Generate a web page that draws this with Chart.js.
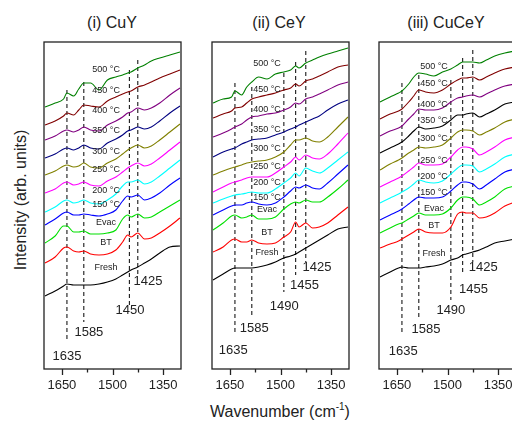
<!DOCTYPE html>
<html>
<head>
<meta charset="utf-8">
<script src="https://cdn.jsdelivr.net/npm/chart.js@4.4.0/dist/chart.umd.min.js"></script>
<style>
  body { margin: 0; width: 512px; height: 421px; overflow: hidden; background: #fff; position: relative;
         font-family: Arial, "Liberation Sans", sans-serif; color: #222; }
  canvas { position: absolute; top: 32px; }
  .lbl { position: absolute; white-space: nowrap; transform: translate(-50%, -50%); }
  .ttl { font-size: 16px; top: 23px; }
  sup { font-size: 10px; }
</style>
</head>
<body>
<div class="lbl ttl" style="left:112px">(i) CuY</div>
<div class="lbl ttl" style="left:279px">(ii) CeY</div>
<div class="lbl ttl" style="left:446px">(iii) CuCeY</div>
<div class="lbl" style="left:21px;top:200px;font-size:16px;transform:translate(-50%,-50%) rotate(-90deg)">Intensity (arb. units)</div>
<div class="lbl" style="left:280px;top:411px;font-size:16px">Wavenumber (cm<sup>-1</sup>)</div>

<canvas id="cuY" width="157" height="365" style="left:34px"></canvas>
<canvas id="ceY" width="157" height="365" style="left:202px"></canvas>
<canvas id="cuCeY" width="157" height="365" style="left:369px"></canvas>

<script>
// --- data (intensity in arbitrary units) ---
const wavenumbers = [1700, 1670, 1645, 1635, 1615, 1600, 1585, 1565, 1540, 1515, 1490, 1470, 1455, 1445, 1425, 1405, 1385, 1360, 1330, 1300];
const sampleLabels = ['Fresh', 'BT', 'Evac', '150 °C', '200 °C', '250 °C', '300 °C', '350 °C', '400 °C', '450 °C', '500 °C'];
const tickValues = [1650, 1575, 1500, 1425, 1350];
const tickLabels = [1650, 1500, 1350];

// rows follow sampleLabels
const cuYSpectra = [
  [73, 78, 83, 85, 84, 84, 84, 84, 85, 87, 90, 94, 97, 99, 102, 106, 110, 116, 122, 123],
  [106, 112, 121, 122, 118, 117, 118, 115, 114, 115, 119, 127, 134, 132, 136, 130, 131, 136, 143, 151],
  [126, 133, 143, 143, 137, 137, 138, 135, 135, 136, 139, 150, 154, 152, 155, 151, 152, 157, 163, 169],
  [144, 150, 156, 157, 154, 154, 155, 154, 153, 155, 159, 168, 173, 172, 174, 169, 171, 176, 184, 191],
  [157, 162, 168, 169, 166, 167, 169, 166, 165, 169, 175, 183, 187, 187, 189, 185, 187, 193, 201, 209],
  [176, 180, 186, 187, 184, 185, 187, 184, 183, 188, 192, 197, 201, 203, 206, 203, 205, 211, 219, 227],
  [194, 198, 203, 204, 202, 203, 206, 202, 201, 206, 210, 215, 219, 221, 224, 221, 223, 229, 237, 245],
  [211, 215, 220, 221, 219, 221, 224, 221, 220, 226, 230, 234, 238, 239, 242, 240, 242, 248, 256, 263],
  [229, 233, 238, 239, 237, 239, 242, 239, 238, 244, 248, 252, 256, 257, 261, 259, 261, 266, 274, 281],
  [244, 248, 253, 256, 254, 259, 264, 263, 262, 268, 272, 275, 277, 278, 282, 284, 287, 291, 295, 299],
  [262, 266, 270, 276, 273, 280, 286, 286, 279, 289, 292, 294, 296, 297, 301, 304, 308, 311, 314, 317]
];
const ceYSpectra = [
  [89, 95, 100, 101, 101, 101, 101, 102, 104, 107, 111, 113, 115, 117, 121, 125, 129, 134, 140, 142],
  [117, 122, 129, 130, 127, 127, 129, 126, 125, 126, 132, 137, 147, 142, 146, 141, 142, 146, 154, 162],
  [139, 146, 153, 154, 151, 152, 154, 150, 150, 152, 160, 165, 167, 166, 169, 167, 167, 172, 180, 189],
  [154, 159, 163, 164, 164, 166, 167, 165, 164, 166, 172, 178, 182, 181, 184, 181, 180, 186, 195, 204],
  [166, 170, 173, 174, 175, 176, 177, 176, 176, 180, 186, 191, 196, 193, 201, 198, 196, 201, 209, 217],
  [177, 182, 186, 187, 189, 191, 192, 192, 192, 196, 202, 207, 212, 209, 214, 211, 210, 215, 225, 236],
  [194, 198, 201, 202, 204, 206, 207, 208, 209, 212, 217, 224, 229, 229, 231, 228, 227, 232, 242, 252],
  [212, 217, 220, 221, 225, 227, 229, 230, 231, 234, 237, 240, 242, 244, 247, 250, 253, 259, 265, 269],
  [232, 236, 240, 242, 245, 249, 252, 253, 255, 256, 259, 262, 266, 265, 270, 272, 275, 279, 284, 287],
  [251, 255, 258, 261, 262, 266, 270, 272, 274, 276, 279, 281, 285, 283, 288, 290, 293, 297, 302, 304],
  [266, 270, 272, 278, 274, 282, 287, 292, 290, 295, 297, 299, 303, 301, 306, 309, 312, 315, 318, 321]
];
const cuCeYSpectra = [
  [92, 97, 101, 102, 101, 101, 101, 102, 103, 105, 109, 111, 114, 115, 117, 119, 122, 126, 128, 130],
  [121, 125, 128, 130, 134, 137, 140, 137, 136, 136, 142, 155, 157, 156, 156, 151, 152, 156, 163, 167],
  [136, 141, 145, 146, 150, 153, 156, 154, 154, 155, 161, 169, 172, 172, 170, 164, 167, 172, 180, 183],
  [149, 154, 158, 160, 165, 169, 172, 171, 171, 172, 178, 184, 187, 187, 185, 180, 184, 190, 197, 200],
  [166, 171, 175, 177, 181, 185, 189, 187, 186, 188, 195, 201, 204, 204, 203, 197, 200, 205, 212, 215],
  [182, 187, 191, 193, 198, 202, 206, 204, 204, 205, 212, 219, 222, 222, 220, 214, 217, 222, 229, 232],
  [199, 205, 209, 211, 216, 219, 222, 221, 222, 224, 231, 237, 239, 239, 238, 234, 237, 241, 247, 250],
  [216, 221, 225, 227, 233, 238, 242, 240, 241, 243, 249, 254, 254, 255, 256, 252, 255, 259, 265, 267],
  [233, 238, 241, 243, 250, 255, 260, 259, 259, 261, 267, 271, 272, 273, 274, 272, 275, 279, 283, 285],
  [250, 255, 258, 260, 267, 273, 279, 277, 276, 279, 285, 289, 291, 291, 292, 289, 292, 296, 300, 302],
  [267, 272, 276, 278, 285, 292, 296, 295, 293, 297, 300, 304, 307, 307, 307, 306, 309, 313, 316, 318]
];

// band markers: position, top and bottom of the dashed line
const cuYBands = [1635, 1585, 1450, 1425];
const cuYBandTop = [279, 287, 299, 309];
const cuYBandBottom = [29, 47, 63, 92];
const ceYBands = [1635, 1585, 1490, 1455, 1425];
const ceYBandTop = [286, 282, 296, 307, 318];
const ceYBandBottom = [34, 51, 77, 94, 107];
const cuCeYBands = [1635, 1585, 1490, 1455, 1425];
const cuCeYBandTop = [286, 294, 289, 311, 319];
const cuCeYBandBottom = [34, 51, 69, 94, 107];

// --- where the text goes (data units) ---
const cuYText = { sampleX: 1519, sampleY: [101, 126, 146, 164, 178, 199, 217, 238, 258, 278, 299],
                  bandX: [1635, 1570, 1448, 1395], bandY: [13, 37, 59, 88] };
const ceYText = { sampleX: 1540, sampleY: [116, 136, 159, 171, 186, 202, 220, 239, 259, 279, 305],
                  bandX: [1640, 1578, 1489, 1429, 1392], bandY: [19, 41, 63, 84, 102] };
const cuCeYText = { sampleX: 1540, sampleY: [115, 143, 160, 176, 192, 208, 230, 248, 264, 285, 302],
                    bandX: [1631, 1564, 1490, 1423, 1394], bandY: [18, 40, 59, 80, 102] };

const baseColors = ['#000000', '#ff0000', '#00e000', '#0000ff', '#00ffff', '#ff00ff', '#808000', '#000080', '#800080', '#800000', '#008000'];
const cuCeYColors = baseColors.map((c, i) => i === 7 ? '#000000' : c);

const FONT = 'Arial, "Liberation Sans", sans-serif';
Chart.defaults.font.family = FONT;

const panelDecor = {
  id: 'panelDecor',
  afterDraw(chart, args, opts) {
    const { ctx, chartArea: a, scales: { x, y } } = chart;
    ctx.save();
    ctx.strokeStyle = '#222';
    ctx.lineWidth = 1.3;
    ctx.strokeRect(a.left, a.top, a.right - a.left, a.bottom - a.top);
    tickValues.forEach(v => {
      const px = Math.round(x.getPixelForValue(v)) + 0.5;
      const len = tickLabels.includes(v) ? 6 : 3.5;
      ctx.beginPath();
      ctx.moveTo(px, a.bottom);
      ctx.lineTo(px, a.bottom + len);
      ctx.stroke();
    });
    ctx.fillStyle = '#222';
    ctx.textAlign = 'center';
    ctx.textBaseline = 'middle';
    ctx.font = '9px ' + FONT;
    sampleLabels.forEach((t, i) => {
      ctx.fillText(t, x.getPixelForValue(opts.text.sampleX), y.getPixelForValue(opts.text.sampleY[i]));
    });
    ctx.font = '13px ' + FONT;
    opts.bands.forEach((b, i) => {
      ctx.fillText(String(b), x.getPixelForValue(opts.text.bandX[i]), y.getPixelForValue(opts.text.bandY[i]));
    });
    ctx.restore();
  }
};

function makePanel(id, spectra, colors, bands, bandTop, bandBottom, text) {
  const datasets = spectra.map((row, i) => ({
    label: sampleLabels[i],
    data: row.map((v, j) => ({ x: wavenumbers[j], y: v })),
    borderColor: colors[i],
    borderWidth: 1.1,
    cubicInterpolationMode: 'monotone',
    pointRadius: 0
  }));
  bands.forEach((b, i) => {
    datasets.push({
      label: String(b),
      data: [{ x: b, y: bandTop[i] }, { x: b, y: bandBottom[i] }],
      borderColor: '#000',
      borderWidth: 1,
      borderDash: [4, 3],
      pointRadius: 0
    });
  });

  new Chart(document.getElementById(id), {
    type: 'line',
    data: { datasets },
    plugins: [panelDecor],
    options: {
      responsive: false,
      animation: false,
      layout: { padding: { left: 10, right: 10, top: 10, bottom: 0 } },
      plugins: {
        legend: { display: false },
        tooltip: { enabled: false },
        panelDecor: { bands, text }
      },
      scales: {
        x: {
          type: 'linear',
          reverse: true,
          min: 1297,
          max: 1703,
          afterBuildTicks: scale => { scale.ticks = tickValues.map(v => ({ value: v })); },
          afterFit: scale => { scale.height = 28; },
          grid: { display: false, drawTicks: true, tickLength: 7 },
          border: { display: false },
          ticks: {
            padding: 2,
            autoSkip: false,
            maxRotation: 0,
            color: '#222',
            font: { size: 13 },
            callback: v => tickLabels.includes(v) ? String(v) : ''
          }
        },
        y: { display: false, min: 0, max: 327 }
      }
    }
  });
}

makePanel('cuY', cuYSpectra, baseColors, cuYBands, cuYBandTop, cuYBandBottom, cuYText);
makePanel('ceY', ceYSpectra, baseColors, ceYBands, ceYBandTop, ceYBandBottom, ceYText);
makePanel('cuCeY', cuCeYSpectra, cuCeYColors, cuCeYBands, cuCeYBandTop, cuCeYBandBottom, cuCeYText);
</script>
</body>
</html>
